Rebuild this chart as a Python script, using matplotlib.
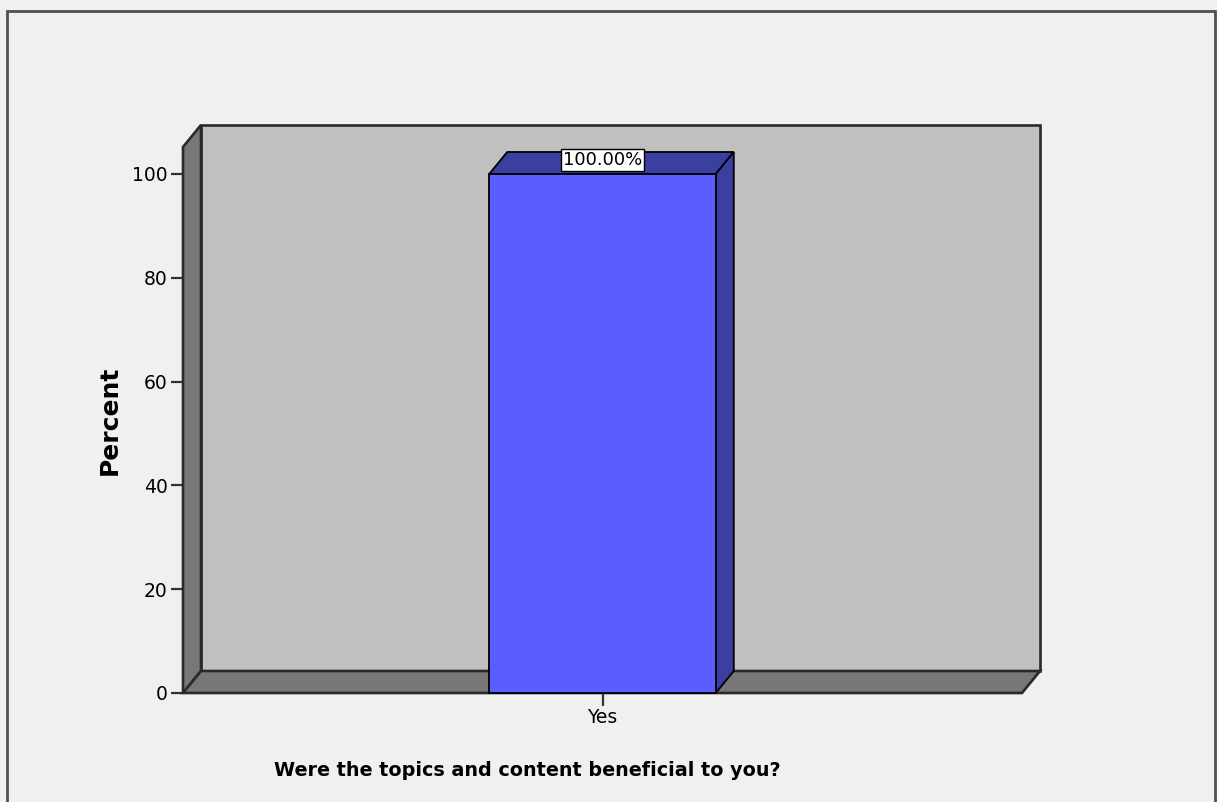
import numpy as np
import matplotlib.pyplot as plt
from matplotlib.patches import Polygon, Rectangle

# chart data
categories = ["Yes"]
percents = [100.0]
bar_labels = ["100.00%"]
yticks = [0, 20, 40, 60, 80, 100]

W, H, DPI = 1217, 802, 100
Y_TOP = 105.2          # height of the front plane in percent units
BAR_W = 0.27
DEPTH_PX = (18, 22)    # 3D depth offset in pixels (right, up)

fig = plt.figure(figsize=(W / DPI, H / DPI), dpi=DPI, facecolor='#f0f0f0')

# outer frame of the chart
fig.add_artist(Rectangle((7 / W, -0.05), 1208 / W, 1 - 11 / H + 0.05,
                         transform=fig.transFigure, fill=False,
                         edgecolor='#505050', lw=2))

# front plane of the plot
ax = fig.add_axes([183 / W, 1 - 693 / H, (1022 - 183) / W, (693 - 147) / H])
ax.set_xlim(-0.5, 0.5)
ax.set_ylim(0, Y_TOP)
ax.patch.set_visible(False)
for s in ax.spines.values():
    s.set_visible(False)

# depth offset in data units
pos = ax.get_position()
dx = DEPTH_PX[0] / (pos.width * W) * 1.0
dy = DEPTH_PX[1] / (pos.height * H) * Y_TOP

x0, x1 = ax.get_xlim()
edge = dict(edgecolor='#2a2a2a', lw=1.9, clip_on=False)

# back wall, left wall, floor
ax.add_patch(Polygon([(x0 + dx, dy), (x1 + dx, dy), (x1 + dx, Y_TOP + dy), (x0 + dx, Y_TOP + dy)],
                     facecolor='#c0c0c0', zorder=1, **edge))
ax.add_patch(Polygon([(x0, 0), (x0 + dx, dy), (x0 + dx, Y_TOP + dy), (x0, Y_TOP)],
                     facecolor='#777777', zorder=2, **edge))
ax.add_patch(Polygon([(x0, 0), (x1, 0), (x1 + dx, dy), (x0 + dx, dy)],
                     facecolor='#777777', zorder=2, **edge))

# bars
x = np.arange(len(categories))
ax.bar(x, percents, width=BAR_W, color='#5a5eff', edgecolor='black', lw=1.3,
       zorder=5, clip_on=False)
for xi, v, lab in zip(x, percents, bar_labels):
    l, r = xi - BAR_W / 2, xi + BAR_W / 2
    ax.add_patch(Polygon([(l, v), (r, v), (r + dx, v + dy), (l + dx, v + dy)],
                         facecolor='#3b3fa0', edgecolor='black', lw=1.3, zorder=4, clip_on=False))
    ax.add_patch(Polygon([(r, 0), (r + dx, dy), (r + dx, v + dy), (r, v)],
                         facecolor='#3b3fa0', edgecolor='black', lw=1.3, zorder=4, clip_on=False))
    ax.text(xi, v + 0.9, lab, ha='center', va='bottom', fontsize=13, zorder=6,
            bbox=dict(boxstyle='square,pad=0.12', facecolor='white', edgecolor='black', lw=1))

ax.set_yticks(yticks)
ax.set_xticks(x, categories)
ax.tick_params(axis='both', length=9, width=1.6, color='#333333', labelsize=13.5, pad=2)

fig.text(110 / W, 1 - 420 / H, 'Percent', rotation=90, ha='center', va='center',
         fontsize=18, fontweight='bold')
fig.text(527 / W, 1 - 770 / H, 'Were the topics and content beneficial to you?',
         ha='center', va='center', fontsize=13.8, fontweight='bold')

fig.savefig('out.png', dpi=DPI, facecolor=fig.get_facecolor())
